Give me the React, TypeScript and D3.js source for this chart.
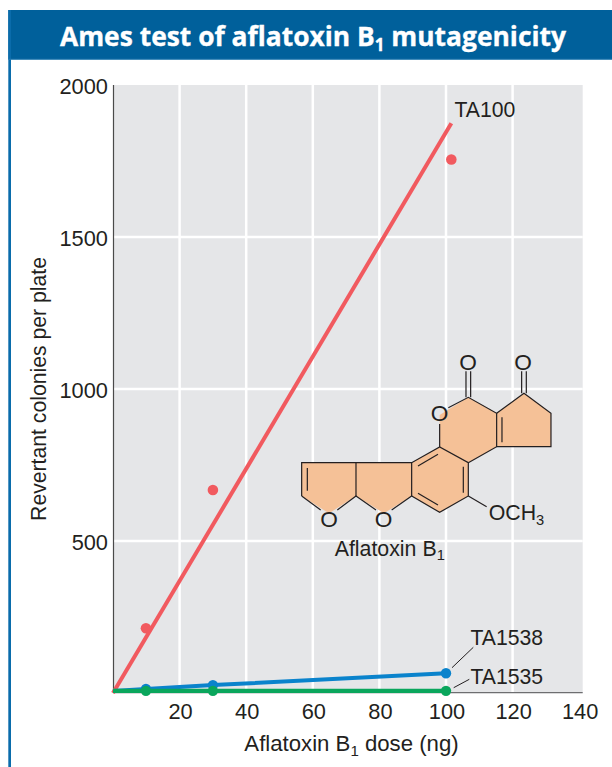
import React from "react";
import * as d3 from "d3";

const xTicks = [20, 40, 60, 80, 100, 120, 140];
const yTicks = [500, 1000, 1500, 2000];
const ta100Line = [{ x: 0, y: 0 }, { x: 101.6, y: 1874 }];
const ta100Points = [{ x: 9.9, y: 213 }, { x: 30, y: 668 }, { x: 101.6, y: 1755 }];
const ta1538 = [{ x: 0, y: 7 }, { x: 9.9, y: 13 }, { x: 30, y: 26 }, { x: 100, y: 65 }];
const ta1535 = [{ x: 0, y: 7 }, { x: 9.9, y: 7 }, { x: 30, y: 7 }, { x: 100, y: 7 }];
const RED = "#f15a5f", BLUE = "#0a83cc", GREEN = "#0aa65c", FRAME = "#00609b";
const FONT = "Liberation Sans, Arial, sans-serif";

const rings = [
  "M35,368L198,368L198,468L117,520L35,468Z",
  "M198,368L365,368L365,468L282,520L198,468Z",
  "M365,368L449,321L535,368L535,468L449,517L365,468Z",
  "M449,321L449,225L535,172L620,220L620,320L535,368Z",
  "M620,220L702,160L783,220L783,320L620,320Z",
];
const bonds = [
  "M35,468L35,368L365,368L449,321L535,368L535,468L449,517L365,468L305,510",
  "M365,368L365,468",
  "M198,368L198,468",
  "M35,468L92,510",
  "M142,510L198,468L258,510",
  "M52,384L52,452",
  "M449,321L449,252",
  "M475,203L535,172L620,220L620,320L535,368",
  "M636,232L636,307",
  "M620,220L702,160L783,220L783,320L620,320",
  "M528,172L528,94M542,172L542,94",
  "M695,160L695,94M709,160L709,94",
  "M520,380L520,458",
  "M384,378L444,343",
  "M384,460L444,495",
  "M535,468L590,500",
];

export default function App() {
  const x = d3.scaleLinear().domain([0, 100]).range([113, 446]);
  const y = d3.scaleLinear().domain([0, 2000]).range([693, 85]);
  const left = 114;
  const right = 582.7;
  const line = d3.line<{ x: number; y: number }>().x(d => x(d.x)).y(d => y(d.y));
  const text = { fontFamily: FONT, fill: "#231f20" };
  return (
    <svg width={612} height={767} style={{ position: "absolute", left: 0, top: 0, background: "#fff" }}>
      <rect x={8.3} y={10} width={603.7} height={49.5} fill={FRAME} />
      <rect x={8.3} y={10} width={2.7} height={757} fill="#0a6cab" />
      <rect x={8.3} y={58.8} width={603.7} height={0.9} fill="#2a7fb4" />
      <text x={313} y={45.7} textAnchor="middle" fontFamily="Open Sans, sans-serif" fontWeight={700} fontSize={26.5} fill="#fff" stroke="#fff" strokeWidth={0.35} textLength={506} lengthAdjust="spacingAndGlyphs">
        Ames test of aflatoxin B<tspan fontSize={17} dy={5}>1</tspan><tspan dy={-5}> mutagenicity</tspan>
      </text>

      <rect x={left} y={85} width={right - left} height={607.5} fill="#e5e6e8" />
      {xTicks.filter(t => t < 140).map(t => (
        <line key={t} x1={x(t)} x2={x(t)} y1={85} y2={692} stroke="#fff" strokeWidth={2.5} />
      ))}
      {yTicks.filter(t => t < 2000).map(t => (
        <line key={t} x1={left} x2={right} y1={y(t)} y2={y(t)} stroke="#fff" strokeWidth={2.5} />
      ))}
      <line x1={113.5} x2={113.5} y1={85} y2={693} stroke="#4a4a4a" strokeWidth={1.2} />
      <line x1={113} x2={right} y1={692.7} y2={692.7} stroke="#6d6e70" strokeWidth={1.2} />

      <g transform="translate(290,340) scale(0.3333)">
        {rings.map((d, i) => <path key={i} d={d} fill="#f5c197" />)}
        {bonds.map((d, i) => <path key={i} d={d} fill="none" stroke="#231f20" strokeWidth={3.6} />)}
        <g fontSize={68} textAnchor="middle" {...text}>
          <text x={534} y={90}>O</text>
          <text x={699} y={90}>O</text>
          <text x={449} y={244}>O</text>
          <text x={117} y={560}>O</text>
          <text x={281} y={560}>O</text>
        </g>
        <g fontSize={64} {...text}>
          <text x={596} y={540}>OCH<tspan fontSize={44} dy={14}>3</tspan></text>
          <text x={134} y={647}>Aflatoxin B<tspan fontSize={44} dy={14}>1</tspan></text>
        </g>
      </g>

      <path d={line(ta100Line) ?? ""} fill="none" stroke={RED} strokeWidth={4} />
      {ta100Points.map((d, i) => <circle key={i} cx={x(d.x)} cy={y(d.y)} r={5.3} fill={RED} />)}
      <path d={line(ta1538) ?? ""} fill="none" stroke={BLUE} strokeWidth={4} />
      {ta1538.slice(1).map((d, i) => <circle key={i} cx={x(d.x)} cy={y(d.y)} r={5.2} fill={BLUE} />)}
      <path d={line(ta1535) ?? ""} fill="none" stroke={GREEN} strokeWidth={4.4} />
      {ta1535.slice(1).map((d, i) => <circle key={i} cx={x(d.x)} cy={y(d.y)} r={5.2} fill={GREEN} />)}

      <g fontSize={21.8} textAnchor="end" {...text}>
        {yTicks.map(t => <text key={t} x={108} y={y(t) + 8.5}>{t}</text>)}
      </g>
      <g fontSize={21.8} textAnchor="middle" {...text}>
        {xTicks.map(t => <text key={t} x={x(t) + 1} y={719}>{t}</text>)}
      </g>
      <text x={351.5} y={751} textAnchor="middle" fontSize={22.2} {...text}>
        Aflatoxin B<tspan fontSize={15} dy={5}>1</tspan><tspan dy={-5}> dose (ng)</tspan>
      </text>
      <text transform="translate(46,389) rotate(-90)" textAnchor="middle" fontSize={21.2} {...text}>Revertant colonies per plate</text>

      <g fontSize={21.2} {...text}>
        <text x={454.5} y={117}>TA100</text>
        <text x={470.5} y={645}>TA1538</text>
        <text x={470.5} y={684}>TA1535</text>
      </g>
      <path d="M452,667.7L473.3,647.3M453.7,687.7L469.3,679.3" fill="none" stroke="#231f20" strokeWidth={1} />
    </svg>
  );
}
